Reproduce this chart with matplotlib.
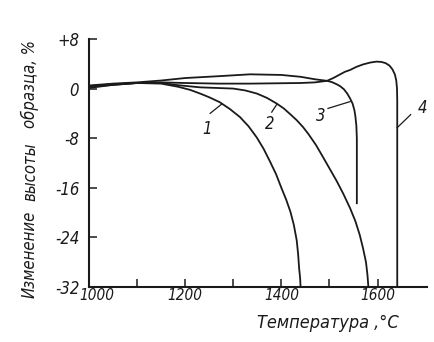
import matplotlib
matplotlib.use("Agg")
import matplotlib.pyplot as plt
from matplotlib.transforms import ScaledTranslation

# температура, °C и изменение высоты образца, %
t1 = [1000, 1050, 1100, 1150, 1185, 1210, 1231, 1250, 1272, 1293, 1314, 1332, 1349, 1363,
      1376, 1389, 1400, 1410, 1419, 1426, 1432, 1435, 1437, 1439, 1440]
h1 = [0.1, 0.6, 0.9, 0.8, 0.3, -0.2, -0.8, -1.4, -2.2, -3.3, -4.6, -6.1, -7.9, -9.7,
      -11.7, -13.8, -16.0, -17.9, -19.9, -22.0, -24.5, -26.8, -29.0, -30.5, -32.0]

t2 = [1000, 1050, 1100, 1150, 1185, 1231, 1300, 1325, 1349, 1370, 1390, 1405, 1418, 1432,
      1445, 1456, 1472, 1487, 1501, 1515, 1529, 1543, 1554, 1563, 1570, 1576, 1579, 1581]
h2 = [0.3, 0.6, 0.9, 0.9, 0.55, 0.2, 0.0, -0.3, -0.8, -1.5, -2.4, -3.2, -4.1, -5.1,
      -6.2, -7.3, -9.1, -11.1, -13.0, -14.9, -17.0, -19.3, -21.4, -23.6, -25.8, -28.0, -30.0, -32.0]

t3 = [1000, 1050, 1100, 1150, 1200, 1270, 1335, 1440, 1470, 1495, 1505, 1515, 1522, 1530,
      1537, 1543, 1548, 1552, 1554, 1556, 1557, 1557, 1557]
h3 = [0.4, 0.7, 0.9, 1.0, 0.9, 0.8, 0.8, 0.9, 1.0, 1.25, 1.05, 0.7, 0.4, -0.1,
      -0.8, -1.6, -2.4, -3.5, -4.5, -6.0, -8.0, -10.0, -18.5]

t4 = [1000, 1050, 1100, 1150, 1200, 1270, 1335, 1400, 1440, 1470, 1495, 1508, 1520, 1532,
      1543, 1556, 1570, 1585, 1598, 1608, 1617, 1625, 1631, 1636, 1639, 1640.5, 1641, 1641]
h4 = [0.5, 0.8, 1.0, 1.3, 1.7, 2.0, 2.3, 2.2, 1.9, 1.5, 1.25, 1.7, 2.2, 2.7,
      3.0, 3.5, 3.9, 4.2, 4.35, 4.3, 4.1, 3.7, 3.1, 2.3, 1.3, 0.0, -2.0, -32.0]

curves = [(t1, h1), (t2, h2), (t3, h3), (t4, h4)]

# номер кривой: (позиция цифры, начало выноски, конец выноски на кривой)
marks = {
    "1": ((1245, -6.6), (1252, -4.0), (1276, -2.5)),
    "2": ((1376, -5.7), (1380, -3.8), (1391, -2.5)),
    "3": ((1482, -4.5), (1497, -3.2), (1543, -2.1)),
    "4": ((1694, -3.2), (1669, -4.2), (1641, -6.3)),
}

yticks = [-32, -24, -16, -8, 0, 8]
ylabels = ["-32", "-24", "-16", "-8", "0", "+8"]
xticks = [1000, 1200, 1400, 1600]
xminor = [1100, 1300, 1500]

ink = "#1a1a1a"
plt.rcParams["font.family"] = ["DejaVu Sans"]
plt.rcParams["font.stretch"] = "condensed"
txt = dict(style="italic", color=ink, stretch="condensed")

fig = plt.figure(figsize=(4.34, 3.42), dpi=100)
ax = fig.add_axes([0.205, 0.161, 0.779, 0.725])

for t, h in curves:
    ax.plot(t, h, color=ink, lw=1.3, solid_joinstyle="round")

for num, (pos, p0, p1) in marks.items():
    ax.plot([p0[0], p1[0]], [p0[1], p1[1]], color=ink, lw=0.9)
    ax.text(pos[0], pos[1], num, fontsize=12, ha="center", va="center", **txt)

ax.set_xlim(1000, 1703)
ax.set_ylim(-32, 8)
ax.spines["top"].set_visible(False)
ax.spines["right"].set_visible(False)
for s in ("left", "bottom"):
    ax.spines[s].set_linewidth(1.5)
    ax.spines[s].set_color(ink)

ax.set_yticks(yticks)
ax.set_yticklabels(ylabels, fontsize=12, **txt)
ax.set_xticks(xticks)
ax.set_xticklabels([str(v) for v in xticks], fontsize=11, **txt)
ax.set_xticks(xminor, minor=True)
ax.tick_params(axis="both", which="both", direction="in", length=5.5,
               width=1.1, color=ink, pad=1)
ax.tick_params(axis="y", pad=7)

# «1000» чуть сдвинута вправо, чтобы не наезжать на «-32»
lab0 = ax.get_xticklabels()[0]
lab0.set_transform(lab0.get_transform() + ScaledTranslation(8 / 100, 0, fig.dpi_scale_trans))

ax.set_xlabel("Температура ,°С", fontsize=13, **txt)
ax.xaxis.set_label_coords(0.707, -0.11)

# подпись оси ординат разнесена по словам
for word, yf in [("образца, %", 0.755), ("высоты", 0.497), ("Изменение", 0.255)]:
    fig.text(0.069, yf, word, rotation=90, fontsize=12,
             ha="center", va="center", **txt)

fig.savefig("out.png", dpi=100)
